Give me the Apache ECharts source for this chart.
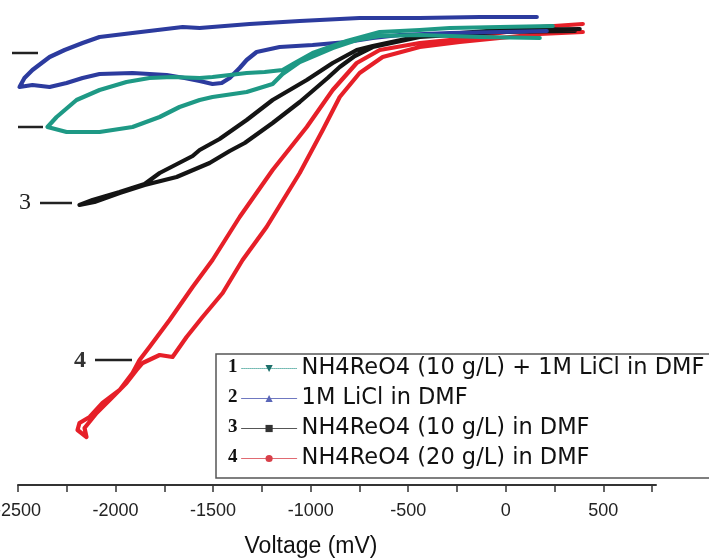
<!DOCTYPE html>
<html>
<head>
<meta charset="utf-8">
<script src="https://cdn.jsdelivr.net/npm/echarts@6/dist/echarts.min.js"></script>
<style>html,body{margin:0;padding:0;background:#fff;}#c{width:709px;height:558px;}</style>
</head>
<body>
<div id="c"></div>
<script>
// Voltage (mV) and current (arbitrary units)
const tickLabels = [-2500, -2000, -1500, -1000, -500, 0, 500];
const minorTicks = [-2250, -1750, -1250, -750, -250, 250, 750];

const seriesNames = [
  'NH4ReO4 (10 g/L) + 1M LiCl in DMF',
  '1M LiCl in DMF',
  'NH4ReO4 (10 g/L) in DMF',
  'NH4ReO4 (20 g/L) in DMF'
];

// 1: teal
const tealV = [241, -31, -287, -441, -646, -815, -990, -1082, -1144, -1236, -1328, -1503, -1569, -1708, -1826, -1944, -2082, -2200, -2302, -2349, -2251, -2082, -1913, -1774, -1672, -1569, -1503, -1328, -1195, -1144, -1056, -887, -764, -646, -441, -133, 174];
const tealI = [-1.1, -1.2, -1.3, -1.5, -1.7, -2.6, -3.8, -4.8, -5.5, -5.7, -5.8, -6.2, -6.3, -6.2, -6.3, -6.7, -7.5, -8.5, -10.2, -11.2, -11.7, -11.7, -11.2, -10.2, -9.2, -8.5, -8.2, -7.7, -6.9, -5.9, -4.7, -3.3, -2.5, -2.1, -2.0, -2.2, -2.3];

// 2: blue
const blueV = [159, -133, -441, -749, -1056, -1313, -1569, -1656, -1913, -2082, -2169, -2261, -2338, -2426, -2467, -2492, -2426, -2338, -2251, -2169, -2082, -1913, -1738, -1646, -1569, -1503, -1456, -1415, -1364, -1328, -1277, -1159, -990, -815, -682, -544, -287, -31, 210];
const blueI = [-0.2, -0.2, -0.3, -0.3, -0.6, -0.9, -1.3, -1.2, -1.8, -2.2, -2.8, -3.5, -4.2, -5.5, -6.3, -7.2, -7.0, -7.2, -6.8, -6.3, -5.9, -5.8, -6.0, -6.3, -6.6, -6.9, -6.8, -6.3, -5.3, -4.5, -3.7, -3.2, -3.0, -2.7, -2.3, -2.0, -1.8, -1.7, -1.6];

// 3: black
const blackV = [379, -31, -441, -682, -764, -887, -1020, -1195, -1328, -1467, -1569, -1605, -1774, -1851, -1979, -2118, -2185, -2108, -1979, -1851, -1687, -1518, -1415, -1338, -1195, -1056, -913, -851, -774, -682, -441, -31, 354];
const blackI = [-1.4, -1.5, -2.1, -3.1, -3.5, -4.8, -6.5, -8.5, -10.5, -12.4, -13.5, -14.1, -15.8, -16.9, -17.7, -18.5, -19.0, -18.7, -17.8, -17.0, -16.2, -14.8, -13.6, -12.8, -10.8, -8.7, -6.3, -5.2, -4.1, -3.2, -2.2, -1.7, -1.6];

// 4: red
const redV = [395, 174, -31, -236, -441, -646, -764, -887, -1020, -1195, -1364, -1503, -1605, -1723, -1826, -1877, -1913, -1979, -2067, -2133, -2185, -2195, -2149, -2159, -2097, -2020, -1944, -1892, -1861, -1774, -1708, -1636, -1554, -1451, -1349, -1226, -1056, -938, -851, -749, -631, -441, -236, -31, 174, 395];
const redI = [-0.9, -1.2, -1.8, -2.4, -2.8, -3.5, -4.8, -7.5, -11.2, -15.5, -20.2, -24.5, -27.2, -30.5, -33.2, -34.5, -35.8, -37.5, -38.8, -40.2, -40.8, -41.5, -42.2, -41.3, -39.8, -38.3, -36.8, -35.5, -34.8, -34.0, -34.2, -32.2, -30.2, -27.8, -24.5, -21.2, -15.8, -11.5, -8.2, -5.8, -4.2, -3.2, -2.7, -2.3, -1.9, -1.7];

const zip = (a, b) => a.map((v, i) => [v, b[i]]);
const allTicks = tickLabels.concat(minorTicks).sort((a, b) => a - b);

const chart = echarts.init(document.getElementById('c'), null, {renderer: 'canvas'});

const mkSeries = (name, vs, is, color, symbol, rot) => ({
  name, type: 'line', data: zip(vs, is),
  showSymbol: false, symbol, symbolRotate: rot || 0, symbolSize: 7,
  smooth: false, animation: false,
  lineStyle: {color, width: 4.2, cap: 'round', join: 'round'},
  itemStyle: {color}
});

const legendFont = {fontFamily: 'DejaVu Sans', fontSize: 22.5, color: '#111', lineHeight: 22};

chart.setOption({
  backgroundColor: '#fff',
  animation: false,
  grid: {left: 18, right: 53, top: 15, bottom: 73, containLabel: false, outerBoundsMode: 'none'},
  xAxis: {
    type: 'value', min: -2500, max: 770, position: 'bottom',
    name: 'Voltage (mV)', nameLocation: 'middle', nameGap: 50,
    nameTextStyle: {fontFamily: 'Liberation Sans', fontSize: 23, color: '#111', padding: [0, 52, 0, 0]},
    axisLine: {onZero: false, lineStyle: {color: '#333', width: 2}},
    axisTick: {show: true, customValues: allTicks, length: 7, lineStyle: {color: '#333', width: 1.5}},
    axisLabel: {customValues: tickLabels, margin: 17, fontFamily: 'Liberation Sans', fontSize: 18, color: '#222',
      formatter: v => String(v)},
    splitLine: {show: false}
  },
  yAxis: {type: 'value', min: -47, max: 0, show: false},
  legend: {
    orient: 'vertical', left: 216, top: 354,
    padding: [3, 40, 8, 25], itemGap: 7,
    itemWidth: 55, itemHeight: 9,
    borderColor: '#555', borderWidth: 1.5,
    textStyle: legendFont,
    data: [
      {name: seriesNames[0], itemStyle: {color: '#1d6f6a'}, lineStyle: {color: '#6fb8b0', width: 1, type: 'dotted'}},
      {name: seriesNames[1], itemStyle: {color: '#5a66b8'}, lineStyle: {color: '#6f78c0', width: 1.2}},
      {name: seriesNames[2], itemStyle: {color: '#333'}, lineStyle: {color: '#555', width: 1.2}},
      {name: seriesNames[3], itemStyle: {color: '#d8404a'}, lineStyle: {color: '#e06a72', width: 1.2}}
    ]
  },
  series: [
    mkSeries(seriesNames[3], redV, redI, '#e61f28', 'circle'),
    mkSeries(seriesNames[2], blackV, blackI, '#141414', 'rect'),
    mkSeries(seriesNames[1], blueV, blueI, '#2c3b9e', 'triangle'),
    mkSeries(seriesNames[0], tealV, tealI, '#1e9985', 'triangle', 180)
  ],
  graphic: [
    {type: 'line', shape: {x1: 12, y1: 53, x2: 38, y2: 53}, style: {stroke: '#222', lineWidth: 2.5}},
    {type: 'line', shape: {x1: 18, y1: 127, x2: 43, y2: 127}, style: {stroke: '#222', lineWidth: 2.5}},
    {type: 'text', left: 19, top: 191, style: {text: '3', font: '24px "Liberation Serif"', fill: '#222'}},
    {type: 'line', shape: {x1: 40, y1: 203, x2: 72, y2: 203}, style: {stroke: '#222', lineWidth: 2.5}},
    {type: 'text', left: 74, top: 349, style: {text: '4', font: 'bold 24px "Liberation Serif"', fill: '#333'}},
    {type: 'line', shape: {x1: 95, y1: 360, x2: 132, y2: 360}, style: {stroke: '#222', lineWidth: 2.5}},
    {type: 'text', left: 228, top: 358, style: {text: '1', font: 'bold 19px "Liberation Serif"', fill: '#111'}, z: 100},
    {type: 'text', left: 228, top: 388, style: {text: '2', font: 'bold 19px "Liberation Serif"', fill: '#111'}, z: 100},
    {type: 'text', left: 228, top: 418, style: {text: '3', font: 'bold 19px "Liberation Serif"', fill: '#111'}, z: 100},
    {type: 'text', left: 228, top: 448, style: {text: '4', font: 'bold 19px "Liberation Serif"', fill: '#111'}, z: 100}
  ]
});
</script>
</body>
</html>
